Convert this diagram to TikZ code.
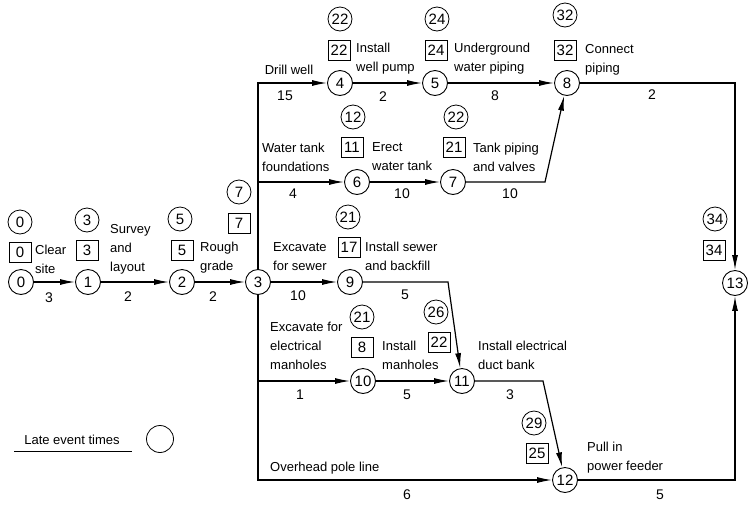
\documentclass[tikz,border=0pt]{standalone}
\usepackage{fontspec}
\setmainfont{Liberation Sans}
\usetikzlibrary{arrows.meta}

\begin{document}
\begin{tikzpicture}[x=1pt,y=-1pt,
  event/.style={circle,draw,line width=0.9pt,minimum size=25pt,inner sep=0pt,
                font=\fontsize{15}{15}\selectfont},
  late/.style={circle,draw,line width=0.8pt,minimum size=24pt,inner sep=0pt,
               font=\fontsize{15}{15}\selectfont},
  early/.style={draw,line width=0.8pt,minimum width=22pt,minimum height=20pt,inner sep=1pt,
                font=\fontsize{15}{15}\selectfont},
  act/.style={anchor=west,align=left,inner sep=0pt,font=\fontsize{13}{19}\selectfont},
  dur/.style={inner sep=0pt,font=\fontsize{14}{14}\selectfont},
  arrow/.style={-{Latex[length=15pt,width=6pt]},line width=1.2pt},
  link/.style={line width=0.9pt}
]
\useasboundingbox (0,0) rectangle (749,504);
% events
\node[event] (n0) at (21,282) {0};
\node[event] (n1) at (88,282) {1};
\node[event] (n2) at (182,282) {2};
\node[event] (n3) at (258,282) {3};
\node[event] (n4) at (340,83) {4};
\node[event] (n5) at (435,83) {5};
\node[event] (n6) at (357,182) {6};
\node[event] (n7) at (453,182) {7};
\node[event] (n8) at (567,83) {8};
\node[event] (n9) at (350,282) {9};
\node[event] (n10) at (363,381) {10};
\node[event] (n11) at (462,381) {11};
\node[event] (n12) at (565,480) {12};
\node[event] (n13) at (735,283) {13};
\coordinate (k78) at (545,182);
\coordinate (k911) at (448,282);
\coordinate (k1112) at (543,381);
% late and early times
\node[late] (l0) at (20,222) {0};   \node[early] (e0) at (20,252) {0};
\node[late] (l1) at (87,220) {3};   \node[early] (e1) at (87,250) {3};
\node[late] (l2) at (180,219) {5};  \node[early] (e2) at (182,250) {5};
\node[late] (l3) at (239,192) {7};  \node[early] (e3) at (239,223) {7};
\node[late] (l4) at (340,19) {22};  \node[early] (e4) at (339,50) {22};
\node[late] (l5) at (437,19) {24};  \node[early] (e5) at (436,50) {24};
\node[late] (l6) at (353,117) {12}; \node[early] (e6) at (352,147) {11};
\node[late] (l7) at (456,117) {22}; \node[early] (e7) at (454,147) {21};
\node[late] (l8) at (565,15) {32};  \node[early] (e8) at (565,50) {32};
\node[late] (l9) at (348,217) {21}; \node[early] (e9) at (349,247) {17};
\node[late] (l10) at (362,317) {21}; \node[early] (e10) at (362,347) {8};
\node[late] (l11) at (436,312) {26}; \node[early] (e11) at (439,342) {22};
\node[late] (l12) at (534,423) {29}; \node[early] (e12) at (537,453) {25};
\node[late] (l13) at (715,219) {34}; \node[early] (e13) at (714,250) {34};
% activities
\node[act] (a01) at (35,259) {Clear\\site};
\node[act] (a12) at (110,249) {Survey\\and\\layout};
\node[act] (a23) at (200,258) {Rough\\grade};
\node[act,anchor=center] (a34) at (289,70) {Drill well};
\node[act] (a45) at (356,59) {Install\\well pump};
\node[act] (a58) at (454,59) {Underground\\water piping};
\node[act] (a813) at (585,60) {Connect\\piping};
\node[act] (a36) at (262,157) {Water tank\\foundations};
\node[act] (a67) at (372,157) {Erect\\water tank};
\node[act] (a78) at (473,157) {Tank piping\\and valves};
\node[act] (a39) at (273,257) {Excavate\\for sewer};
\node[act] (a911) at (365,256) {Install sewer\\and backfill};
\node[act] (a310) at (270,346) {Excavate for\\electrical\\manholes};
\node[act] (a1011) at (382,355) {Install\\manholes};
\node[act] (a1112) at (478,355) {Install electrical\\duct bank};
\node[act] (a1213) at (587,458) {Pull in\\power feeder};
\node[act] (a312) at (270,468) {Overhead pole line};
% durations
\node[dur] (d01) at (49,298) {3};
\node[dur] (d12) at (128,297) {2};
\node[dur] (d23) at (213,297) {2};
\node[dur] (d34) at (285,96) {15};
\node[dur] (d45) at (383,97) {2};
\node[dur] (d58) at (495,96) {8};
\node[dur] (d813) at (652,95) {2};
\node[dur] (d36) at (293,194) {4};
\node[dur] (d67) at (402,194) {10};
\node[dur] (d78) at (510,194) {10};
\node[dur] (d39) at (298,296) {10};
\node[dur] (d911) at (405,295) {5};
\node[dur] (d310) at (300,395) {1};
\node[dur] (d1011) at (407,395) {5};
\node[dur] (d1112) at (510,395) {3};
\node[dur] (d312) at (407,495) {6};
\node[dur] (d1213) at (660,495) {5};
% legend
\node[act,anchor=center] (legend) at (72,440) {Late event times};
\node[late,minimum size=27pt] (lcirc) at (160,439) {};
\draw[link] (legend.south west) ++(-10,6) -- ++(118,0);
% connectors
\draw[arrow] (n0)--(n1); \draw[arrow] (n1)--(n2); \draw[arrow] (n2)--(n3);
\draw[arrow] (n3)|-(n4); \draw[arrow] (n4)--(n5); \draw[arrow] (n5)--(n8);
\draw[arrow] (n3)|-(n6); \draw[arrow] (n6)--(n7); \draw[arrow] (n7)--(k78)--(n8);
\draw[arrow] (n3)--(n9); \draw[arrow] (n9)--(k911)--(n11);
\draw[arrow] (n3)|-(n10); \draw[arrow] (n10)--(n11); \draw[arrow] (n11)--(k1112)--(n12);
\draw[arrow] (n3)|-(n12); \draw[arrow] (n8)-|(n13); \draw[arrow] (n12)-|(n13);
\end{tikzpicture}
\end{document}
